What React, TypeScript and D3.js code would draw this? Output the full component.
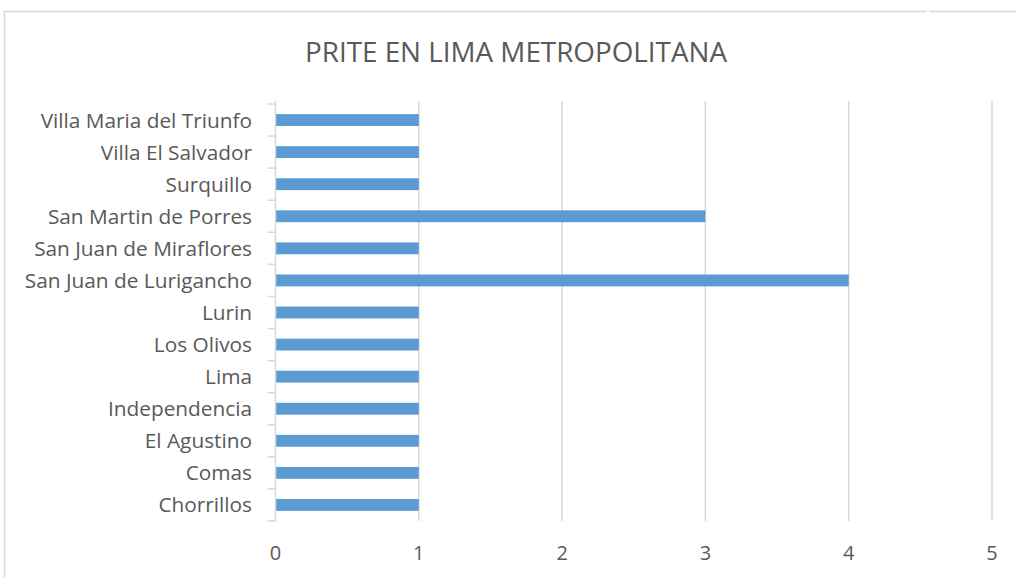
import React from "react";
import * as d3 from "d3";

const categories = [
  "Villa Maria del Triunfo",
  "Villa El Salvador",
  "Surquillo",
  "San Martin de Porres",
  "San Juan de Miraflores",
  "San Juan de Lurigancho",
  "Lurin",
  "Los Olivos",
  "Lima",
  "Independencia",
  "El Agustino",
  "Comas",
  "Chorrillos",
];
const values = [1, 1, 1, 3, 1, 4, 1, 1, 1, 1, 1, 1, 1];
const xTicks = [0, 1, 2, 3, 4, 5];
const title = "PRITE EN LIMA METROPOLITANA";

export default function App() {
  const W = 1016;
  const H = 577;
  const left = 275.5;
  const right = 992;
  const top = 104;
  const bottom = 521;
  const x = d3.scaleLinear().domain([0, 5]).range([left, right]);
  const y = d3.scaleBand<string>().domain(categories).range([top, bottom]).paddingInner(0.63).paddingOuter(0.315);
  const band = d3.scaleBand<string>().domain(categories).range([top, bottom]);
  const font = "'Open Sans', sans-serif";
  const textColor = "#595959";
  const grid = "#D9D9D9";

  return (
    <svg
      width={W}
      height={H}
      style={{ position: "absolute", left: 0, top: 0, background: "#fff" }}
    >
      {/* chart border */}
      <line x1={4} y1={11.5} x2={927} y2={11.5} stroke={grid} strokeWidth={1.5} />
      <line x1={929} y1={11.5} x2={1016} y2={11.5} stroke={grid} strokeWidth={1.5} />
      <line x1={4.5} y1={11} x2={4.5} y2={H} stroke={grid} strokeWidth={1.5} />

      <text
        x={305}
        y={61.5}
        textAnchor="start"
        fontFamily={font}
        fontSize={27}
        fill={textColor}
        textLength={422}
        lengthAdjust="spacingAndGlyphs"
      >
        {title}
      </text>

      {/* gridlines */}
      {xTicks.filter((t) => t > 0).map((t) => (
        <line key={t} x1={x(t)} x2={x(t)} y1={top - 3} y2={bottom} stroke={grid} strokeWidth={1.5} />
      ))}

      {/* bars */}
      {categories.map((c, i) => (
        <rect
          key={c}
          x={x(0)}
          y={y(c)}
          width={x(values[i]) - x(0)}
          height={y.bandwidth()}
          fill="#5B9BD5"
        />
      ))}

      {/* category axis */}
      <line x1={left} x2={left} y1={top - 3} y2={bottom} stroke={grid} strokeWidth={1.5} />
      {[...categories.map((c) => band(c) as number), bottom].map((v, i) => (
        <line key={i} x1={left - 8} x2={left} y1={v} y2={v} stroke={grid} strokeWidth={1.5} />
      ))}
      {categories.map((c) => (
        <text
          key={c}
          x={252}
          y={(band(c) as number) + band.bandwidth() / 2}
          dy="0.36em"
          textAnchor="end"
          fontFamily={font}
          fontSize={20.8}
          fill={textColor}
        >
          {c}
        </text>
      ))}

      {/* value axis labels */}
      {xTicks.map((t) => (
        <text
          key={t}
          x={x(t)}
          y={560}
          textAnchor="middle"
          fontFamily={font}
          fontSize={20}
          fill={textColor}
        >
          {t}
        </text>
      ))}
    </svg>
  );
}
